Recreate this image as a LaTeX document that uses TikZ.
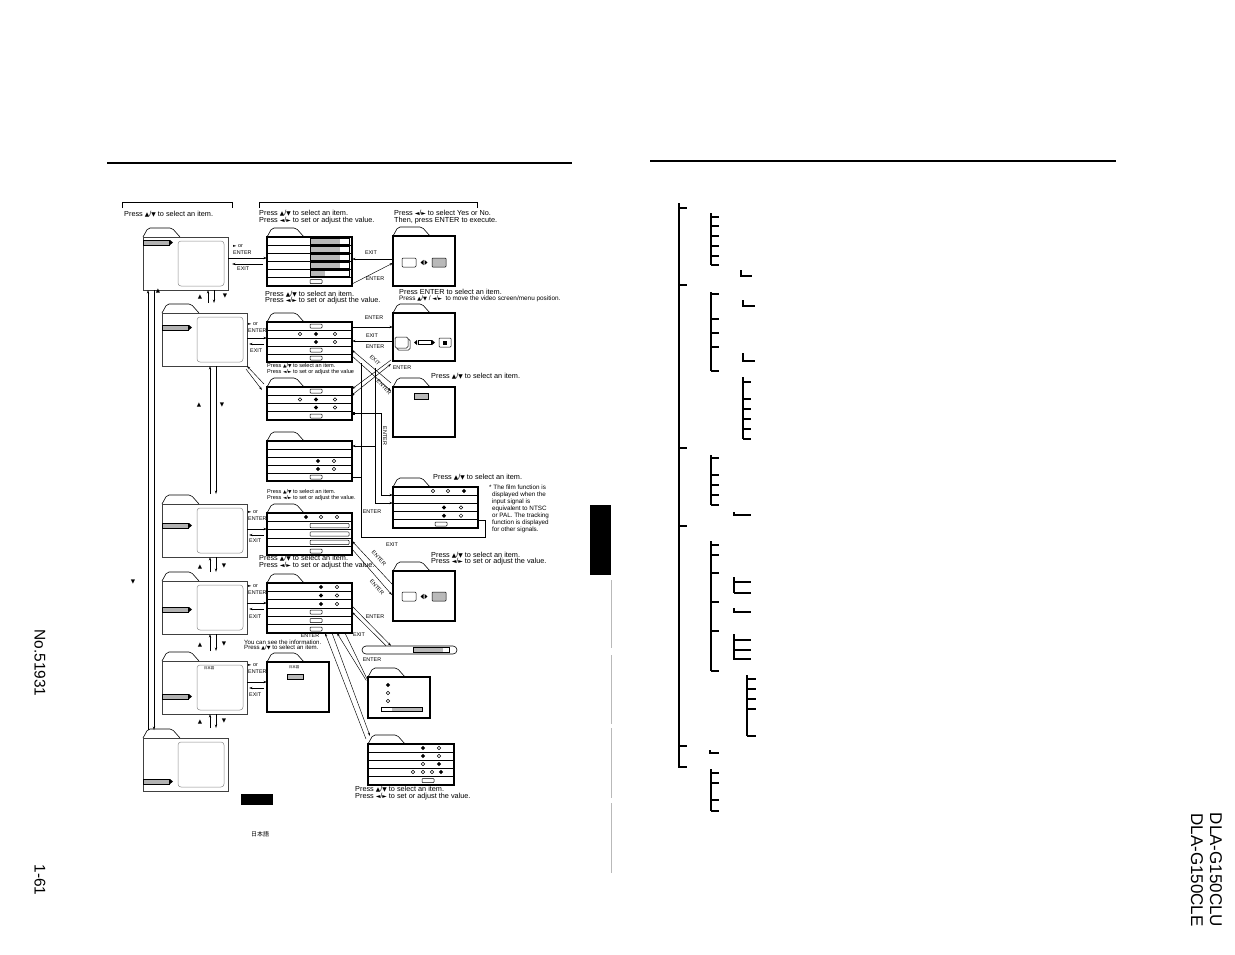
\documentclass[tikz,border=0pt]{standalone}
\usepackage{fontspec}
\setmainfont{Liberation Sans}
\newfontfamily\symf{DejaVu Sans}
\newfontfamily\cjk{Noto Sans CJK JP}
\usetikzlibrary{arrows.meta,shapes.geometric,calc,fit}
\newcommand\SymU{\scalebox{0.8}{\symf ▲}}
\newcommand\SymD{\scalebox{0.8}{\symf ▼}}
\newcommand\SymL{\scalebox{0.8}{\symf ◄}}
\newcommand\SymR{\scalebox{0.8}{\symf ►}}
\newcommand\PUD{Press \SymU/\SymD{} to select an item.}
\newcommand\PLR{Press \SymL/\SymR{} to set or adjust the value.}
\tikzset{
  tx/.style={inner sep=0, anchor=west, font=\fontsize{7.3}{8}\selectfont},
  txm/.style={inner sep=0, anchor=west, font=\fontsize{6.1}{7}\selectfont},
  txs/.style={inner sep=0, anchor=west, font=\fontsize{5.6}{6}\selectfont},
  lbl/.style={inner sep=0, font=\fontsize{5.4}{6}\selectfont},
  symlbl/.style={inner sep=0, font=\fontsize{7}{7}\selectfont},
  bodybox/.style={draw, line width=1.1pt, inner sep=0, outer sep=0, fill=white},
  mainbox/.style={draw=black!75, line width=0.9pt, inner sep=0, outer sep=0, fill=white},
  tabline/.style={line width=0.6pt, rounded corners=2pt},
  rowline/.style={line width=0.8pt},
  conn/.style={line width=0.45pt},
  arr/.style={conn, -{Stealth[length=3.5pt,width=2.2pt]}},
  sqarr/.style={conn, {Square[length=2.2pt,width=2.2pt]}-{Stealth[length=3.5pt,width=2.2pt]}},
  bararr/.style={conn, {Bar[width=3pt]}-{Stealth[length=3.5pt,width=2.2pt]}},
  barline/.style={conn, {Bar[width=3pt]}-},
  tree/.style={line width=1.3pt},
}
\newcommand\tabshape[2]{\draw[tabline] (#1,#2) -- (#1+5,#2-9) -- (#1+29,#2-9) -- (#1+37,#2);}
\newcommand\subfold[5]{\tabshape{#2}{#3}\node[bodybox, fit={(#2,#3) (#4,#5)}] (#1) {};}
\newcommand\mainfold[4]{%
  \tabshape{#2}{#3}
  \node[mainbox, fit={(#2,#3) (#2+85,#3+53)}] (#1) {};
  \draw[black!45, line width=0.5pt, rounded corners=3pt] (#2+35,#3+4) rectangle (#2+81,#3+49);
  \fill[gray!60] (#2,#4) rectangle (#2+26,#4+5);
  \draw[line width=0.5pt] (#2,#4) rectangle (#2+26,#4+5);
  \fill (#2+27,#4) -- (#2+30,#4+2.5) -- (#2+27,#4+5) -- cycle;}
\newcommand\rowl[2]{\foreach \yy in {#2} {\draw[rowline] (#1.west |- 0,\yy) -- (#1.east |- 0,\yy);}}
\newcommand\dF[2]{\fill (#1,#2-2.2) -- (#1+2.2,#2) -- (#1,#2+2.2) -- (#1-2.2,#2) -- cycle;}
\newcommand\dH[2]{\draw[line width=0.45pt] (#1,#2-1.8) -- (#1+1.8,#2) -- (#1,#2+1.8) -- (#1-1.8,#2) -- cycle;}
\newcommand\srr[2]{\draw[line width=0.5pt, rounded corners=0.8pt] (#1,#2-2) rectangle (#1+12,#2+2);}
\newcommand\lrr[2]{\draw[line width=0.5pt, rounded corners=0.8pt] (#1,#2-2.2) rectangle (#1+39,#2+2.2);}
\newcommand\gbar[2]{\fill[gray!55] (310,#2-2.8) rectangle (#1,#2+2.8); \draw[line width=0.5pt] (310,#2-2.8) rectangle (349,#2+2.8);}
\newcommand\lrsym[2]{\fill (#1-3.5,#2) -- (#1-0.5,#2-2.6) -- (#1-0.5,#2+2.6) -- cycle; \fill (#1+3.5,#2) -- (#1+0.5,#2-2.6) -- (#1+0.5,#2+2.6) -- cycle;}
\begin{document}
\begin{tikzpicture}[x=1pt,y=-1pt]
\useasboundingbox (0,0) rectangle (1235,954);
\path[fill=white] (0,0) rectangle (1235,954);

% header rules
\draw[line width=1.8pt] (107,163) -- (572,163);
\draw[line width=1.8pt] (650,161) -- (1116,161);
% brackets
\draw[line width=0.6pt] (122,208) -- (122,202) -- (232,202) -- (232,208);
\draw[line width=0.6pt] (259,208) -- (259,202) -- (477,202) -- (477,208);

% side tab
\fill (590,505) rectangle (611,575);
\draw[gray!55, line width=1pt] (611,580) -- (611,648);
\draw[gray!55, line width=1pt] (611,655) -- (611,724);
\draw[gray!55, line width=1pt] (611,728) -- (611,798);
\draw[gray!55, line width=1pt] (611,803) -- (611,873);

% rotated texts
\node[rotate=-90, inner sep=0, font=\fontsize{15.5}{16}\selectfont] (docno) at (40,663) {No.51931};
\node[rotate=-90, inner sep=0, font=\fontsize{15.5}{16}\selectfont] (pageno) at (40,880) {1-61};
\node[rotate=-90, inner sep=0, font=\fontsize{17}{18}\selectfont] (modelA) at (1216,870) {DLA-G150CLU};
\node[rotate=-90, inner sep=0, font=\fontsize{17}{18}\selectfont] (modelB) at (1197,870) {DLA-G150CLE};

% ---------- left column main menu folders ----------
\mainfold{f1}{143}{237}{240}
\mainfold{f2}{162}{313}{325}
\mainfold{f3}{162}{504}{523}
\mainfold{f4}{162}{581}{607}
\mainfold{f5}{162}{661}{694}
\mainfold{f6}{143}{738}{779}
\node[inner sep=0, font=\cjk\fontsize{3.5}{4}\selectfont] (j2) at (209,668) {日本語};

% long return lines
\draw[arr] (148,730) -- (f1.south -| 148,0);
\draw[arr] (f1.south -| 154,0) -- (154,730);
\node[symlbl] (u0) at (158,291) {\SymU};
\node[symlbl] (d0) at (133,582) {\SymD};

% step arrows between main folders
\draw[arr] (f2.north -| 208,0) ++(0,-10) -- (f1.south -| 208,0);
\draw[arr] (f1.south -| 214,0) -- (214,303);
\node[symlbl] (u1) at (200,297) {\SymU};
\node[symlbl] (d1s) at (225,296) {\SymD};
\draw[arr] (210,494) -- (f2.south -| 210,0);
\draw[arr] (f2.south -| 216,0) -- (216,494);
\node[symlbl] (u2) at (199,405) {\SymU};
\node[symlbl] (d2s) at (222,405) {\SymD};
\draw[arr] (210,572) -- (f3.south -| 210,0);
\draw[arr] (f3.south -| 216,0) -- (216,572);
\node[symlbl] (u3) at (200,567) {\SymU};
\node[symlbl] (d3s) at (224,566) {\SymD};
\draw[arr] (210,651) -- (f4.south -| 210,0);
\draw[arr] (f4.south -| 216,0) -- (216,651);
\node[symlbl] (u4) at (200,645) {\SymU};
\node[symlbl] (d4s) at (224,644) {\SymD};
\draw[arr] (210,728) -- (f5.south -| 210,0);
\draw[arr] (f5.south -| 216,0) -- (216,728);
\node[symlbl] (u5) at (200,722) {\SymU};
\node[symlbl] (d5s) at (224,721) {\SymD};

% ---------- sub menus ----------
\subfold{m1}{267}{237}{352}{286}
\rowl{m1}{245,253,261,269,277}
\gbar{340}{241}\gbar{340}{249}\gbar{340}{257}\gbar{340}{265}\gbar{325}{273}
\srr{310}{281.5}

\subfold{d1}{393}{236}{455}{286}
\draw[line width=0.5pt, rounded corners=1pt] (402,258) rectangle (416,267);
\lrsym{424}{262.5}
\filldraw[fill=gray!55, line width=0.5pt, rounded corners=0.8pt] (432,258) rectangle (446,267);

\subfold{m2}{267}{322}{352}{362}
\rowl{m2}{330,338,346,354}
\srr{310}{326}
\dH{300}{334}\dF{316}{334}\dH{335}{334}
\dF{316}{342}\dH{335}{342}
\srr{310}{350}\srr{310}{358}

\subfold{d2}{393}{313}{455}{361}
\draw[line width=0.5pt, rounded corners=1.5pt] (397,339) rectangle (410,350);
\draw[line width=0.5pt, rounded corners=1.5pt, fill=white] (395,337) rectangle (408,348);
\fill (414,342.5) -- (417,340) -- (417,345) -- cycle;
\draw[line width=0.5pt] (418,340.5) rectangle (431,344.5);
\fill (435,342.5) -- (432,340) -- (432,345) -- cycle;
\draw[line width=0.5pt, rounded corners=0.8pt] (439,338) rectangle (451,347);
\fill (443,340.5) rectangle (447,344.5);

\subfold{m3}{267}{387}{352}{420}
\rowl{m3}{395.25,403.5,411.75}
\srr{310}{391}
\dH{300}{399.5}\dF{316}{399.5}\dH{335}{399.5}
\dF{316}{407.5}\dH{335}{407.5}
\srr{310}{416}

\subfold{d3}{393}{387}{455}{437}
\filldraw[fill=gray!55, line width=0.5pt] (414,393) rectangle (428,399);

\subfold{m4}{267}{441}{352}{481}
\rowl{m4}{449,457,465,473}
\dF{318}{461}\dH{334}{461}
\dF{318}{469}\dH{334}{469}
\srr{310}{477}

\subfold{mf}{393}{487}{478}{528}
\rowl{mf}{495.2,503.4,511.6,519.8}
\dH{433}{491}\dH{448}{491}\dF{464}{491}
\dF{444}{507.5}\dH{461}{507.5}
\dF{444}{515.7}\dH{461}{515.7}
\srr{435}{524}

\subfold{m5}{267}{513}{352}{555}
\rowl{m5}{521.4,529.8,538.2,546.6}
\dF{306}{517}\dH{321}{517}\dH{337}{517}
\lrr{310}{525.6}\lrr{310}{534}\lrr{310}{542.4}
\srr{310}{551}

\subfold{m6}{267}{583}{352}{633}
\rowl{m6}{591.3,599.7,608,616.3,624.7}
\dF{321}{587}\dH{337}{587}
\dF{321}{595.5}\dH{337}{595.5}
\dF{321}{604}\dH{337}{604}
\srr{310}{612}\srr{310}{620.5}\srr{310}{629}

\subfold{d5}{393}{571}{455}{621}
\draw[line width=0.5pt, rounded corners=1pt] (402,592) rectangle (416,601);
\lrsym{424}{596.5}
\filldraw[fill=gray!55, line width=0.5pt, rounded corners=0.8pt] (432,592) rectangle (446,601);

\node[draw, line width=0.6pt, rounded corners=4pt, inner sep=0, fit={(362,646) (457,654)}] (bar) {};
\fill[gray!55] (413,647.5) rectangle (443,652.5);
\draw[line width=0.5pt] (413,647.5) rectangle (449,652.5);

\subfold{m7}{368}{677}{430}{718}
\dF{388}{685}\dH{388}{693}\dH{388}{701}
\fill[gray!55] (392,707) rectangle (422,711);
\draw[line width=0.5pt] (381,707) rectangle (422,711);

\subfold{m8}{368}{744}{454}{785}
\rowl{m8}{752,760,768,776}
\dF{423}{748}\dH{439}{748}
\dF{423}{756}\dH{439}{756}
\dH{423}{764}\dF{439}{764}
\dH{413}{772}\dH{423}{772}\dH{432}{772}\dF{441}{772}
\srr{422}{780.5}

\subfold{mi}{267}{662}{329}{712}
\node[inner sep=0, font=\cjk\fontsize{3.5}{4}\selectfont] (j3) at (294,667) {日本語};
\filldraw[fill=gray!55, line width=0.5pt] (287,674) rectangle (303,679);

% ---------- connectors ----------
\draw[arr] (f1.east |- 0,258) -- (m1.west |- 0,258);
\draw[arr] ($(m1.west |- 0,264)+(-4,0)$) -- ($(f1.east |- 0,264)+(4,0)$);
\draw[arr] (f2.east |- 0,338) -- (m2.west |- 0,338);
\draw[arr] ($(m2.west |- 0,344)+(-3,0)$) -- ($(f2.east |- 0,344)+(2,0)$);
\draw[arr] (f3.east |- 0,529) -- (m5.west |- 0,529);
\draw[arr] ($(m5.west |- 0,535)+(-3,0)$) -- ($(f3.east |- 0,535)+(2,0)$);
\draw[arr] (f4.east |- 0,603) -- (m6.west |- 0,603);
\draw[arr] ($(m6.west |- 0,609)+(-3,0)$) -- ($(f4.east |- 0,609)+(2,0)$);
\draw[arr] (f5.east |- 0,682) -- (mi.west |- 0,682);
\draw[arr] ($(mi.west |- 0,688)+(-3,0)$) -- ($(f5.east |- 0,688)+(2,0)$);
\draw[arr] (264,384) -- (f2.south east);
\draw[arr] (246,369) -- (262,390);

\draw[arr] (d1.west |- 0,259) -- (m1.east |- 0,259);
\draw[arr] (m1.east |- 0,284) -- (d1.west |- 0,263);
\draw[bararr] (m2.east |- 0,327) -- (d2.west |- 0,327);
\draw[arr] (d2.west |- 0,341) -- (m2.east |- 0,341);
\draw[arr] (391,383) -- (m2.east |- 0,350);
\draw[arr] (m2.east |- 0,356) -- (391,391);
\draw[arr] (391,360) -- (m3.east |- 0,389);
\draw[sqarr] (m3.east |- 0,395) -- (391,364);
\draw[sqarr] (m3.east |- 0,413) -| (381,495) -- (mf.west |- 0,495);
\draw[arr] (375,368) |- (mf.west |- 0,503);
\draw[arr] (375,446) -- (m4.east |- 0,446);
\draw[barline] (mf.east |- 0,520) -| (485,537) -| (361,363);
\draw[barline] (m4.east |- 0,477) -- (361,477);
\draw[arr] (392,584) -- (m5.east |- 0,541);
\draw[arr] (m5.east |- 0,549) -- (392,595);
\draw[arr] (m6.east |- 0,606) -- (bar.north -| 391,0);
\draw[arr] (bar.north -| 386,0) -- (m6.east |- 0,612);
\draw[arr] (366,680) -- (m6.south -| 337,0);
\draw[arr] (m6.south -| 345,0) -- (369,683);
\draw[arr] (366,739) -- (m6.south -| 325,0);
\draw[arr] (m6.south -| 332,0) -- (370,736);

% ---------- connector labels ----------
\node[lbl, anchor=west] (a1) at (233,246) {\SymR{} or};
\node[lbl, anchor=west] (a2) at (233,253) {ENTER};
\node[lbl, anchor=west] (a3) at (237,269) {EXIT};
\node[lbl, anchor=west] (b1) at (248,324) {\SymR{} or};
\node[lbl, anchor=west] (b2) at (248,331) {ENTER};
\node[lbl, anchor=west] (b3) at (250,351) {EXIT};
\node[lbl, anchor=west] (c1) at (248,512) {\SymR{} or};
\node[lbl, anchor=west] (c2) at (248,519) {ENTER};
\node[lbl, anchor=west] (c3) at (249,541) {EXIT};
\node[lbl, anchor=west] (e1) at (248,586) {\SymR{} or};
\node[lbl, anchor=west] (e2) at (248,593) {ENTER};
\node[lbl, anchor=west] (e3) at (249,617) {EXIT};
\node[lbl, anchor=west] (g1) at (248,665) {\SymR{} or};
\node[lbl, anchor=west] (g2) at (248,672) {ENTER};
\node[lbl, anchor=west] (g3) at (249,695) {EXIT};

\node[lbl] (l1) at (371,253) {EXIT};
\node[lbl] (l2) at (375,279) {ENTER};
\node[lbl] (l3) at (374,318) {ENTER};
\node[lbl] (l4) at (372,336) {EXIT};
\node[lbl] (l5) at (375,347) {ENTER};
\node[lbl, rotate=-45] (l6) at (375,360) {EXIT};
\node[lbl, rotate=-45] (l7) at (384,387) {ENTER};
\node[lbl] (l8) at (402,368) {ENTER};
\node[lbl, rotate=-90] (l9) at (385,436) {ENTER};
\node[lbl] (l10) at (372,512) {ENTER};
\node[lbl] (l11) at (392,545) {EXIT};
\node[lbl, rotate=-48] (l12) at (379,558) {ENTER};
\node[lbl, rotate=-48] (l13) at (377,587) {ENTER};
\node[lbl] (l14) at (375,617) {ENTER};
\node[lbl] (l15) at (359,635) {EXIT};
\node[lbl] (l16) at (310,636) {ENTER};
\node[lbl] (l17) at (372,660) {ENTER};

% ---------- instruction texts ----------
\node[tx] (t1) at (124,214) {\PUD};
\node[tx] (t2) at (259,213) {\PUD};
\node[tx] (t3) at (259,221) {\PLR};
\node[tx] (t4) at (394,213) {Press \SymL/\SymR{} to select Yes or No.};
\node[tx] (t5) at (394,221) {Then, press ENTER to execute.};
\node[tx] (t6) at (265,294) {\PUD};
\node[tx] (t7) at (265,301) {\PLR};
\node[tx] (t8) at (399,292) {Press ENTER to select an item.};
\node[inner sep=0, anchor=west, font=\fontsize{6.4}{7}\selectfont] (t9) at (399,299) {Press \SymU/\SymD{} / \SymL/\SymR{} \ to move the video screen/menu position.};
\node[txs] (t10) at (267,366) {\PUD};
\node[txs] (t11) at (267,372) {Press \SymL/\SymR{} to set or adjust the value};
\node[tx] (t12) at (431,376) {\PUD};
\node[txs] (t13) at (267,492) {\PUD};
\node[txs] (t14) at (267,498) {\PLR};
\node[tx] (t15) at (433,477) {\PUD};
\node[inner sep=0, anchor=north west, align=left, font=\fontsize{6.3}{7}\selectfont] (t16) at (489,485)
  {* The film function is\\ \ \,displayed when the\\ \ \,input signal is\\ \ \,equivalent to NTSC\\ \ \,or PAL. The tracking\\ \ \,function is displayed\\ \ \,for other signals.};
\node[tx] (t17) at (259,558) {\PUD};
\node[tx] (t18) at (259,566) {\PLR};
\node[tx] (t19) at (431,555) {\PUD};
\node[tx] (t20) at (431,562) {\PLR};
\node[txm] (t21) at (244,642) {You can see the information.};
\node[txm] (t22) at (244,648) {\PUD};
\node[tx] (t23) at (355,789) {\PUD};
\node[tx] (t24) at (355,797) {\PLR};

\fill (241,794) rectangle (273,805);
\node[inner sep=0, font=\cjk\fontsize{6}{6}\selectfont] (j1) at (260,834) {日本語};

% ---------- right tree ----------
\draw[tree] (679,203) -- (679,767) -- (687,767);
\foreach \y in {208,285,448,526,746} {\draw[tree] (679,\y) -- (687,\y);}
\draw[tree] (711,213) -- (711,265);
\foreach \y in {217,226,236,246,256,265} {\draw[tree] (711,\y) -- (719,\y);}
\draw[tree] (741,270) -- (741,276) -- (752,276);
\draw[tree] (711,292) -- (711,371);
\foreach \y in {294,319,333,347,371} {\draw[tree] (711,\y) -- (719,\y);}
\draw[tree] (743,300) -- (743,306) -- (755,306);
\draw[tree] (743,353) -- (743,361) -- (755,361);
\draw[tree] (743,377) -- (743,439);
\foreach \y in {382,399,409,419,429,439} {\draw[tree] (743,\y) -- (751,\y);}
\draw[tree] (711,455) -- (711,505);
\foreach \y in {458,475,485,495,505} {\draw[tree] (711,\y) -- (719,\y);}
\draw[tree] (734,512) -- (734,515) -- (751,515);
\draw[tree] (711,541) -- (711,671);
\foreach \y in {545,555,573,602,631,671} {\draw[tree] (711,\y) -- (719,\y);}
\draw[tree] (734,577) -- (734,593);
\foreach \y in {582,593} {\draw[tree] (734,\y) -- (751,\y);}
\draw[tree] (734,608) -- (734,612) -- (751,612);
\draw[tree] (734,634) -- (734,660);
\foreach \y in {640,650,659} {\draw[tree] (734,\y) -- (751,\y);}
\draw[tree] (747,675) -- (747,736);
\foreach \y in {679,689,699,709,736} {\draw[tree] (747,\y) -- (756,\y);}
\draw[tree] (710,750) -- (710,753) -- (719,753);
\draw[tree] (711,769) -- (711,811);
\foreach \y in {773,783,800,811} {\draw[tree] (711,\y) -- (719,\y);}
\end{tikzpicture}
\end{document}
